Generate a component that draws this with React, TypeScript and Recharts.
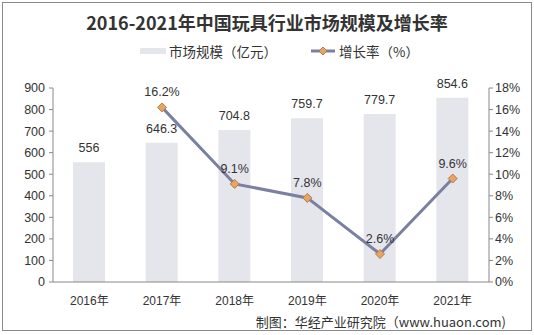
import React from "react";
import {
  ComposedChart,
  Bar,
  Line,
  XAxis,
  YAxis,
  Legend,
  LabelList,
} from "recharts";

const years = ["2016年", "2017年", "2018年", "2019年", "2020年", "2021年"];
const marketSize = [556, 646.3, 704.8, 759.7, 779.7, 854.6];
const growthRate = [null, 16.2, 9.1, 7.8, 2.6, 9.6];
const leftTicks = [0, 100, 200, 300, 400, 500, 600, 700, 800, 900];
const rightTicks = [0, 2, 4, 6, 8, 10, 12, 14, 16, 18];

const data = years.map((year, i) => ({
  year,
  size: marketSize[i],
  rate: growthRate[i],
}));

const font = "'Liberation Sans', Arial, 'Noto Sans CJK SC', sans-serif";

const Diamond = (props: any) => {
  const { cx, cy, value } = props;
  if (value == null || cx == null) return null;
  const r = 4.5;
  return (
    <path
      d={`M${cx},${cy - r}L${cx + r},${cy}L${cx},${cy + r}L${cx - r},${cy}Z`}
      fill="#e8a464"
      stroke="#b77a45"
      strokeWidth={1}
    />
  );
};

const LegendBox = () => (
  <div
    style={{
      display: "flex",
      alignItems: "center",
      fontFamily: "'Noto Sans CJK SC', sans-serif",
      fontSize: 13.5,
      color: "#333",
    }}
  >
    <span
      style={{
        display: "inline-block",
        width: 26,
        height: 6,
        background: "#e5e5ec",
        marginRight: 3,
      }}
    />
    <span>市场规模（亿元）</span>
    <svg width={24} height={12} style={{ marginLeft: 34, marginRight: 4 }}>
      <line x1={0} y1={6} x2={24} y2={6} stroke="#7b7fa0" strokeWidth={3} />
      <path d="M12,2L16,6L12,10L8,6Z" fill="#e8a464" stroke="#b77a45" />
    </svg>
    <span>增长率（%）</span>
  </div>
);

export default function App() {
  return (
    <div
      style={{
        position: "absolute",
        left: 0,
        top: 0,
        width: 534,
        height: 335,
        background: "#fff",
      }}
    >
      <div
        style={{
          position: "absolute",
          left: 2,
          top: 2,
          width: 528,
          height: 327,
          border: "1px solid #8a8a8a",
        }}
      />
      <div
        style={{
          position: "absolute",
          top: 9,
          width: 534,
          textAlign: "center",
          fontFamily: "'Noto Sans CJK SC', sans-serif",
          fontWeight: 700,
          fontSize: 18,
          color: "#333",
        }}
      >
        2016-2021年中国玩具行业市场规模及增长率
      </div>
      <ComposedChart
        width={534}
        height={335}
        data={data}
        margin={{ top: 68, right: 0, bottom: 23, left: 0 }}
        style={{ position: "absolute", left: 0, top: 0 }}
      >
        <Legend
          verticalAlign="top"
          align="center"
          content={LegendBox}
          wrapperStyle={{ top: 41, left: 140, width: 320 }}
        />
        <XAxis
          dataKey="year"
          stroke="#888"
          tickLine={false}
          tick={{ fill: "#333", fontSize: 12, fontFamily: font }}
          height={30}
          tickMargin={8}
        />
        <YAxis
          yAxisId="left"
          domain={[0, 900]}
          ticks={leftTicks}
          width={53}
          stroke="#888"
          tickSize={4}
          tickMargin={4}
          tick={{ fill: "#333", fontSize: 12.5, fontFamily: font }}
        />
        <YAxis
          yAxisId="right"
          orientation="right"
          domain={[0, 18]}
          ticks={rightTicks}
          tickFormatter={(v) => `${v}%`}
          width={45}
          stroke="#888"
          tickSize={4}
          tick={{ fill: "#333", fontSize: 12.5, fontFamily: font }}
        />
        <Bar
          yAxisId="left"
          dataKey="size"
          fill="#e5e5ec"
          barSize={32}
          isAnimationActive={false}
        >
          <LabelList
            dataKey="size"
            position="top"
            offset={10}
            style={{ fill: "#333", fontSize: 12.5, fontFamily: font }}
          />
        </Bar>
        <Line
          yAxisId="right"
          dataKey="rate"
          stroke="#7b7fa0"
          strokeWidth={3}
          dot={<Diamond />}
          activeDot={false}
          connectNulls={false}
          isAnimationActive={false}
        >
          <LabelList
            dataKey="rate"
            position="top"
            offset={11}
            formatter={(v: any) => (v == null ? "" : `${v}%`)}
            style={{ fill: "#333", fontSize: 12.5, fontFamily: font }}
          />
        </Line>
      </ComposedChart>
      <div
        style={{
          position: "absolute",
          right: 28,
          top: 312,
          fontFamily: "'Noto Sans CJK SC', sans-serif",
          fontSize: 13,
          color: "#333",
        }}
      >
        制图：华经产业研究院（www.huaon.com)
      </div>
    </div>
  );
}
